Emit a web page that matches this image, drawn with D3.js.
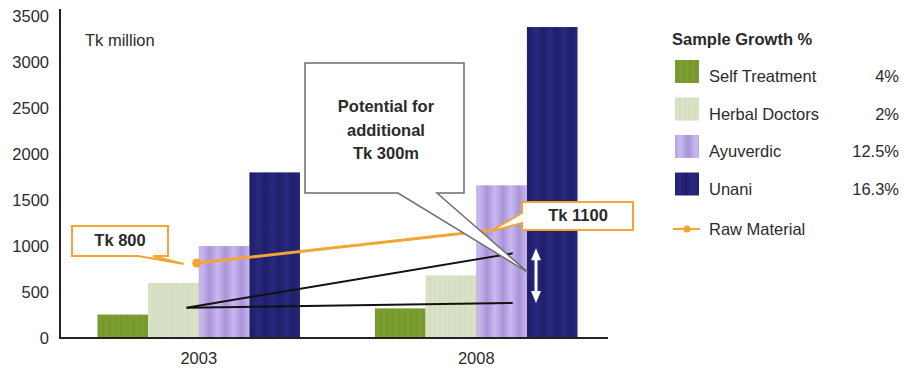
<!DOCTYPE html>
<html><head><meta charset="utf-8">
<script src="https://cdn.jsdelivr.net/npm/d3@7"></script>
<style>
html,body{margin:0;padding:0;background:#fff;}
svg{display:block;font-family:"Liberation Sans",Arial,sans-serif;}
</style></head>
<body>
<svg id="chart" width="904" height="372"></svg>
<script>
// ---- data ----
const categories = ["2003", "2008"];
const seriesNames = ["Self Treatment", "Herbal Doctors", "Ayuverdic", "Unani"];
const selfTreatment = [255, 322];
const herbalDoctors = [600, 680];
const ayuverdic = [1000, 1660];
const unani = [1800, 3380];
const growthLabels = ["4%", "2%", "12.5%", "16.3%"];
const rawMaterial = [815, 1170];
const rawMaterialLabels = ["Tk 800", "Tk 1100"];
const trendBase = [330, 380];
const trendGrowth = [330, 920];
const yTicks = [0, 500, 1000, 1500, 2000, 2500, 3000, 3500];
const calloutLines = ["Potential for", "additional", "Tk 300m"];

const seriesValues = [selfTreatment, herbalDoctors, ayuverdic, unani];

// ---- setup ----
const svg = d3.select("#chart");
const defs = svg.append("defs");
const textColor = "#2b2b2b";
const orange = "#f2a533";

function stripePattern(id, w, c1, c2) {
  const g = defs.append("linearGradient").attr("id", id + "g")
    .attr("x1", 0).attr("x2", 1).attr("y1", 0).attr("y2", 0);
  g.append("stop").attr("offset", 0).attr("stop-color", c1);
  g.append("stop").attr("offset", 0.5).attr("stop-color", c2);
  g.append("stop").attr("offset", 1).attr("stop-color", c1);
  const p = defs.append("pattern").attr("id", id).attr("patternUnits", "userSpaceOnUse")
    .attr("width", w).attr("height", 10);
  p.append("rect").attr("width", w).attr("height", 10).attr("fill", `url(#${id}g)`);
}
stripePattern("pSelf", 6, "#76982b", "#7e9f33");
stripePattern("pHerbal", 5, "#d3dec0", "#dae3ca");
stripePattern("pAyur", 16, "#a993d8", "#c9baef");
stripePattern("pUnani", 14, "#1e1e69", "#29297f");
const fills = ["url(#pSelf)", "url(#pHerbal)", "url(#pAyur)", "url(#pUnani)"];

const y = d3.scaleLinear().domain([0, 3500]).range([338, 16]);
const x = d3.scaleBand().domain(categories).range([60, 615]).paddingInner(0.27).paddingOuter(0.135);
const xs = d3.scaleBand().domain(seriesNames).range([0, x.bandwidth()]);

// bars
categories.forEach((cat, ci) => {
  const g = svg.append("g").attr("transform", `translate(${x(cat)},0)`);
  g.selectAll("rect").data(seriesNames).join("rect")
    .attr("x", s => xs(s))
    .attr("width", xs.bandwidth())
    .attr("y", (s, si) => y(seriesValues[si][ci]))
    .attr("height", (s, si) => y(0) - y(seriesValues[si][ci]))
    .attr("fill", (s, si) => fills[si]);
});

// axes
svg.append("line").attr("x1", 60).attr("x2", 60).attr("y1", 9).attr("y2", y(0))
  .attr("stroke", "#222").attr("stroke-width", 2);
svg.append("line").attr("x1", 59).attr("x2", 608).attr("y1", y(0)).attr("y2", y(0))
  .attr("stroke", "#222").attr("stroke-width", 2);

const yAxis = d3.axisLeft(y).tickValues(yTicks).tickFormat(d3.format("d")).tickSize(0).tickPadding(11);
const yg = svg.append("g").attr("transform", "translate(60,0)").call(yAxis);
yg.select(".domain").remove();
yg.selectAll("text").attr("font-size", 16.5).attr("fill", textColor)
  .attr("font-family", '"Liberation Sans",Arial,sans-serif');

const xAxis = d3.axisBottom(x).tickSize(0).tickPadding(14);
const xg = svg.append("g").attr("transform", `translate(0,${y(0)})`).call(xAxis);
xg.select(".domain").remove();
xg.selectAll("text").attr("font-size", 16.5).attr("fill", textColor)
  .attr("font-family", '"Liberation Sans",Arial,sans-serif');

svg.append("text").attr("x", 85).attr("y", 46).attr("font-size", 16.5)
  .attr("fill", textColor).text("Tk million");

// positions inside groups
const px = (ci, frac) => x(categories[ci]) + x.bandwidth() * frac;
const trendFrac = [0.44, 0.68];
const rawFrac = [0.49, 0.57];

// trend lines
[trendBase, trendGrowth].forEach(arr => {
  svg.append("line")
    .attr("x1", px(0, trendFrac[0])).attr("y1", y(arr[0]))
    .attr("x2", px(1, trendFrac[1])).attr("y2", y(arr[1]))
    .attr("stroke", "#111").attr("stroke-width", 2);
});

// raw material line
const rawPts = rawMaterial.map((v, i) => [px(i, rawFrac[i]), y(v)]);
svg.append("path").attr("d", d3.line()(rawPts))
  .attr("stroke", orange).attr("stroke-width", 3).attr("fill", "none");
svg.append("circle").attr("cx", rawPts[0][0]).attr("cy", rawPts[0][1]).attr("r", 4.5)
  .attr("fill", orange);

// double arrow
const ax = px(1, 0.795);
const aTop = y(trendGrowth[1]) - 5, aBot = y(trendBase[1]);
const arrowG = svg.append("g");
arrowG.append("line").attr("x1", ax).attr("x2", ax).attr("y1", aTop + 8).attr("y2", aBot - 8)
  .attr("stroke", "#fff").attr("stroke-width", 3);
arrowG.append("path").attr("d", `M${ax},${aTop} L${ax - 5},${aTop + 12} L${ax + 5},${aTop + 12} Z`).attr("fill", "#fff");
arrowG.append("path").attr("d", `M${ax},${aBot} L${ax - 5},${aBot - 12} L${ax + 5},${aBot - 12} Z`).attr("fill", "#fff");

// potential callout
const tip = [ax - 8, y(trendGrowth[1]) + 19];
svg.append("path")
  .attr("d", `M305,63 H464 V193 H437 L${tip[0]},${tip[1]} L398,193 H305 Z`)
  .attr("fill", "#fff").attr("stroke", "#6e6e6e").attr("stroke-width", 1.5);
svg.append("g").selectAll("text").data(calloutLines).join("text")
  .attr("x", 386).attr("y", (d, i) => 112 + i * 23.5)
  .attr("text-anchor", "middle").attr("font-weight", "bold").attr("font-size", 16.5)
  .attr("fill", textColor).text(d => d);

// Tk 800 callout
const t0 = [rawPts[0][0] - 13, rawPts[0][1] + 1];
svg.append("path")
  .attr("d", `M72,226 H168 V256 H153 L${t0[0]},${t0[1]} L138,256 H72 Z`)
  .attr("fill", "#fff").attr("stroke", orange).attr("stroke-width", 2);
svg.append("text").attr("x", 120).attr("y", 246).attr("text-anchor", "middle")
  .attr("font-weight", "bold").attr("font-size", 16.5).attr("fill", textColor)
  .text(rawMaterialLabels[0]);

// Tk 1100 callout
const t1 = rawPts[1];
svg.append("path")
  .attr("d", `M522,202 H633 V230 H522 V223 L${t1[0]},${t1[1] + 1} L522,213 Z`)
  .attr("fill", "#fff").attr("stroke", orange).attr("stroke-width", 2);
svg.append("text").attr("x", 578).attr("y", 221).attr("text-anchor", "middle")
  .attr("font-weight", "bold").attr("font-size", 16.5).attr("fill", textColor)
  .text(rawMaterialLabels[1]);

// legend
const lg = svg.append("g");
lg.append("text").attr("x", 672).attr("y", 45).attr("font-weight", "bold")
  .attr("font-size", 16.5).attr("fill", textColor).text("Sample Growth %");
const rowY = i => 60 + i * 37.5;
seriesNames.forEach((s, i) => {
  lg.append("rect").attr("x", 675).attr("y", rowY(i)).attr("width", 24).attr("height", 23)
    .attr("fill", fills[i]);
  lg.append("text").attr("x", 709).attr("y", rowY(i) + 22).attr("font-size", 16.5)
    .attr("fill", textColor).text(s);
  lg.append("text").attr("x", 899).attr("y", rowY(i) + 22).attr("font-size", 16.5)
    .attr("text-anchor", "end").attr("fill", textColor).text(growthLabels[i]);
});
lg.append("line").attr("x1", 673).attr("x2", 700).attr("y1", 229).attr("y2", 229)
  .attr("stroke", orange).attr("stroke-width", 2);
lg.append("circle").attr("cx", 687).attr("cy", 229).attr("r", 3.5).attr("fill", orange);
lg.append("text").attr("x", 709).attr("y", 235).attr("font-size", 16.5)
  .attr("fill", textColor).text("Raw Material");
</script>
</body></html>
